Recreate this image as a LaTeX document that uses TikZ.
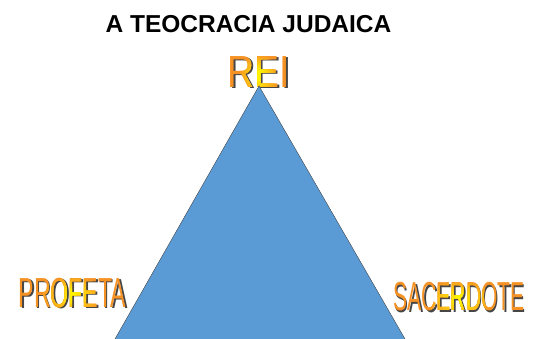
\documentclass[tikz,border=0pt]{standalone}
\usepackage{fontspec}
\setmainfont{Liberation Sans}

\definecolor{triblue}{RGB}{91,155,213}
\definecolor{artorange}{RGB}{246,146,36}
\definecolor{artyellow}{RGB}{255,242,0}
\definecolor{artshadow}{RGB}{70,70,70}

\begin{document}
\begin{tikzpicture}[
        x = 1pt, y = 1pt,
        line join=round,
        trianglestyle/.style = {draw=black!70, thin, fill=triblue},
        reiart/.style = {inner sep=0pt, font=\fontsize{45}{45}\selectfont, xscale=0.83},
        profetaart/.style = {inner sep=0pt, font=\fontsize{42}{42}\selectfont, xscale=0.55},
        sacerdoteart/.style = {inner sep=0pt, font=\fontsize{40.5}{40.5}\selectfont, xscale=0.52}
    ]

    \useasboundingbox (0, 0) rectangle (537, 339);

    \coordinate (rei) at (259, 267);
    \coordinate (profeta) at (72.5, 46);
    \coordinate (sacerdote) at (459, 42);

    \node[anchor=base, font=\bfseries\fontsize{24.5}{24.5}\selectfont] (title) at (248.5, 306) {A TEOCRACIA JUDAICA};

    % shadows
    \node[reiart, text=artshadow] at ([shift={(1.5,-1.5)}]rei) {REI};
    \node[profetaart, text=artshadow] at ([shift={(1.5,-1.5)}]profeta) {PROFETA};
    \node[sacerdoteart, text=artshadow] at ([shift={(1.5,-1.5)}]sacerdote) {SACERDOTE};

    % letters, orange outside and yellow in the middle
    \node[reiart, text=artorange] (reilabel) at (rei) {REI};
    \node[profetaart, text=artorange] (profetalabel) at (profeta) {PROFETA};
    \node[sacerdoteart, text=artorange] (sacerdotelabel) at (sacerdote) {SACERDOTE};

    \foreach \k in {1, ..., 8} {
        \pgfmathtruncatemacro\mix{12.5*\k}
        \begin{scope}
            \clip ([yshift=-3]rei) ellipse ({22 - 2.4*\k} and {22 - 2*\k});
            \node[reiart, text=artyellow!\mix!artorange] at (rei) {REI};
        \end{scope}
        \begin{scope}
            \clip ([yshift=-2]profeta) ellipse ({34 - 3.8*\k} and {20 - 1.8*\k});
            \node[profetaart, text=artyellow!\mix!artorange] at (profeta) {PROFETA};
        \end{scope}
        \begin{scope}
            \clip ([yshift=-2]sacerdote) ellipse ({38 - 4.2*\k} and {20 - 1.8*\k});
            \node[sacerdoteart, text=artyellow!\mix!artorange] at (sacerdote) {SACERDOTE};
        \end{scope}
    }

    \coordinate (left) at (115, 0);
    \coordinate (apex) at (259, 253);
    \coordinate (right) at (405, 0);

    \fill[triblue] (left) -- (apex) -- (right) -- cycle;
    \draw[trianglestyle] (left) -- (apex) -- (right);

\end{tikzpicture}
\end{document}
